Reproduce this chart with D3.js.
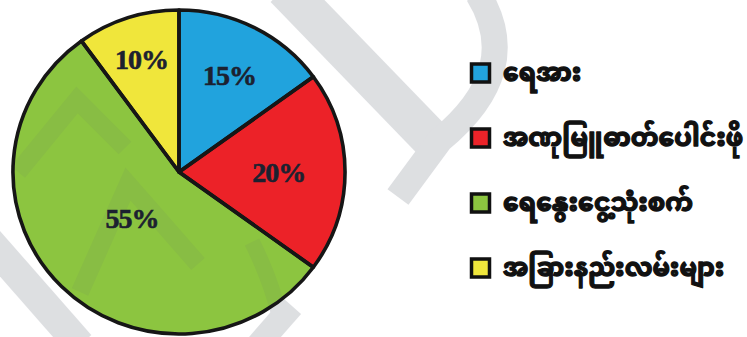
<!DOCTYPE html>
<html>
<head>
<meta charset="utf-8">
<script src="https://cdn.jsdelivr.net/npm/d3@7"></script>
<style>
  html, body { margin: 0; padding: 0; background: #ffffff; }
  svg { display: block; }
</style>
</head>
<body>
<svg id="chart" width="747" height="337"></svg>
<script>
// Energy sources share (percent)
const categories = ["ရေအား", "အဏုမြူဓာတ်ပေါင်းဖို", "ရေနွေးငွေ့သုံးစက်", "အခြားနည်းလမ်းများ"];
const shares = [15, 20, 55, 10];
const sliceColors = ["#22a3dd", "#ec2329", "#8cc540", "#f0e73c"];

// Layout
const W = 747, H = 337;
const cx = 179, cy = 172, R = 162, stretchX = 1.025;
const labelRadiusFrac = [0.67, 0.60, 0.40, 0.73];
const legendX = 470, legendY0 = 73, legendStep = 65, swatch = 21;

const svg = d3.select("#chart");

// Faint background watermark strokes
const wmStrokes = [
  { d: "M 285,-12 L 432,140", w: 40 },
  { d: "M 478,-6 Q 525,70 440,140 L 398,197", w: 26 },
  { d: "M 18,172 L 77,100 L 125,148", w: 18 },
  { d: "M 80,292 L 128,184 L 198,264", w: 18 },
  { d: "M 252,242 Q 272,282 281,322", w: 16 },
  { d: "M -12,240 L 80,345", w: 30 },
  { d: "M 292,306 L 258,345", w: 24 }
];
function drawWatermark(parent, opacity) {
  const g = parent.append("g")
    .attr("opacity", opacity)
    .attr("fill", "none")
    .attr("stroke", "#5a6270");
  g.selectAll("path")
    .data(wmStrokes)
    .join("path")
    .attr("d", d => d.d)
    .attr("stroke-width", d => d.w);
  return g;
}
drawWatermark(svg, 0.2);

const pie = d3.pie().sort(null).startAngle(0).endAngle(2 * Math.PI)(shares);
const arc = d3.arc().innerRadius(0).outerRadius(R);

const pieG = svg.append("g")
  .attr("transform", `translate(${cx},${cy}) scale(${stretchX},1)`);

pieG.selectAll("path.slice")
  .data(pie)
  .join("path")
  .attr("class", "slice")
  .attr("d", arc)
  .attr("fill", (d, i) => sliceColors[i]);

// Watermark showing softly through the pie
svg.append("clipPath").attr("id", "pieClip")
  .append("ellipse")
  .attr("cx", cx).attr("cy", cy)
  .attr("rx", R * stretchX).attr("ry", R);
drawWatermark(svg, 0.08).attr("clip-path", "url(#pieClip)");

// Slice outlines on top
const outlineG = svg.append("g")
  .attr("transform", `translate(${cx},${cy}) scale(${stretchX},1)`);
outlineG.selectAll("path")
  .data(pie)
  .join("path")
  .attr("d", arc)
  .attr("fill", "none")
  .attr("stroke", "#161616")
  .attr("stroke-width", 3.6)
  .attr("stroke-linejoin", "round")
  .attr("vector-effect", "non-scaling-stroke");

// Percent labels
svg.append("g").selectAll("text")
  .data(pie)
  .join("text")
  .attr("x", (d, i) => {
    const a = (d.startAngle + d.endAngle) / 2;
    return cx + Math.sin(a) * R * labelRadiusFrac[i] * stretchX;
  })
  .attr("y", (d, i) => {
    const a = (d.startAngle + d.endAngle) / 2;
    return cy - Math.cos(a) * R * labelRadiusFrac[i];
  })
  .attr("dy", "0.35em")
  .attr("text-anchor", "middle")
  .attr("font-family", "'Liberation Serif', 'Times New Roman', serif")
  .attr("font-weight", "bold")
  .attr("font-size", 28)
  .attr("letter-spacing", -1)
  .attr("fill", "#1c2130")
  .attr("stroke", "#1c2130")
  .attr("stroke-width", 0.6)
  .text(d => d.data + "%");

// Legend
const legend = svg.append("g").selectAll("g")
  .data(categories)
  .join("g")
  .attr("transform", (d, i) => `translate(${legendX},${legendY0 + i * legendStep})`);

legend.append("rect")
  .attr("x", 1.5)
  .attr("y", -swatch / 2 + 1.5)
  .attr("width", swatch - 3)
  .attr("height", swatch - 3)
  .attr("fill", (d, i) => sliceColors[i])
  .attr("stroke", "#111")
  .attr("stroke-width", 3.5);

legend.append("text")
  .attr("x", 33)
  .attr("y", 0)
  .attr("dy", "0.3em")
  .attr("font-family", "'Noto Sans Myanmar', 'Padauk', 'Myanmar Text', 'Noto Sans', sans-serif")
  .attr("font-weight", "bold")
  .attr("font-size", 25)
  .attr("fill", "#111")
  .attr("stroke", "#111")
  .attr("stroke-width", 1.3)
  .attr("stroke-linejoin", "round")
  .text(d => d);
</script>
</body>
</html>
